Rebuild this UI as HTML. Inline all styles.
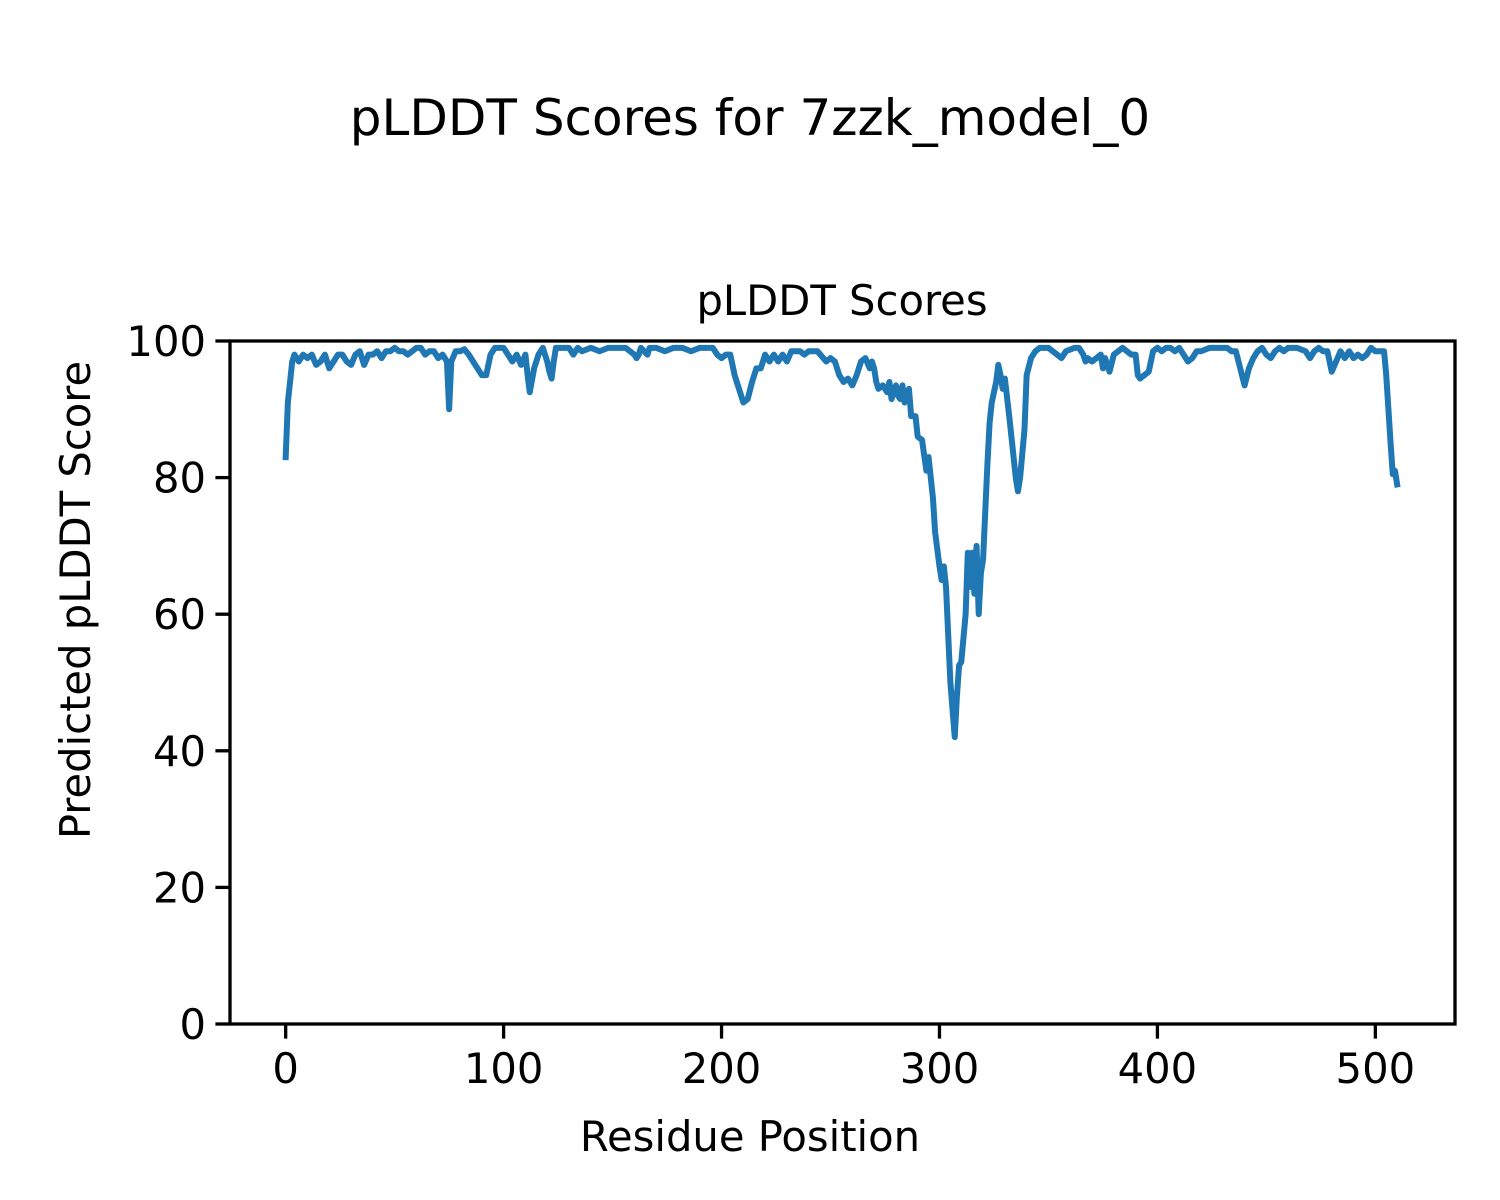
<!DOCTYPE html>
<html><head><meta charset="utf-8"><style>
html,body{margin:0;padding:0;background:#fff}
svg{display:block;font-family:"DejaVu Sans","Liberation Sans",sans-serif}
</style></head><body>
<svg id="chart" width="1500" height="1200" viewBox="0 0 1500 1200">
<rect width="1500" height="1200" fill="#fff"/>
<text x="750" y="135" style="font-size:50px" text-anchor="middle">pLDDT Scores for 7zzk_model_0</text>
<text x="842" y="315" style="font-size:41.7px" text-anchor="middle">pLDDT Scores</text>
<g id="xticks"></g>
<g id="yticks"></g>
<path id="line" fill="none" stroke="#1f77b4" stroke-width="6" stroke-linejoin="round" stroke-linecap="square"/>
<rect x="230" y="341" width="1225" height="683" fill="none" stroke="#000" stroke-width="3.3"/>
<text x="750" y="1151" style="font-size:41.7px" text-anchor="middle">Residue Position</text>
<text transform="translate(90,600) rotate(-90)" style="font-size:41.7px" text-anchor="middle">Predicted pLDDT Score</text>
</svg>
<script>
const residues=[0,1,3,4,6,8,10,12,14,16,18,20,22,24,26,28,30,32,34,36,38,40,42,44,46,48,50,52,54,56,58,60,62,64,66,68,70,72,74,75,76,78,80,82,84,86,88,90,92,94,96,98,100,102,104,106,108,110,111,112,114,116,118,120,121,122,123,124,126,130,132,134,136,140,144,148,152,156,160,161,162,163,166,167,170,174,178,182,186,190,196,198,200,202,204,206,208,210,212,214,216,218,220,222,224,226,228,230,232,236,238,240,244,248,250,252,254,256,258,260,262,264,266,268,269,270,271,272,274,276,277,278,280,281,282,283,284,286,287,289,290,292,294,295,297,298,300,301,302,303,305,307,308,309,310,312,313,314,315,316,317,318,319,320,322,323,324,326,327,328,329,330,332,333,335,336,337,339,340,342,344,346,350,354,356,358,362,364,366,367,368,370,372,374,375,376,378,380,382,384,386,388,390,391,392,394,396,397,398,400,402,404,406,408,410,412,414,416,418,420,424,428,432,434,436,438,440,442,444,446,448,450,452,454,456,458,460,464,468,470,472,474,476,478,480,482,484,486,488,490,492,494,496,498,500,502,504,505,507,508,509,510];
const scores=[83,91,97,98,97,98,97.5,98,96.5,97,98,96,97,98,98,97,96.5,98,98.5,96.5,98,98,98.5,97.5,98.5,98.5,99,98.5,98.5,98,98.5,99,99,98,98.5,98.5,97.5,98,97,90,97,98.5,98.5,98.8,98,97,96,95,95,98,99,99,99,98,97,98,96.5,98,95,92.5,96,98,99,97,95.5,94.5,97,99,99,99,98,99,98.5,99,98.5,99,99,99,98,97.5,98,99,98,99,99,98.5,99,99,98.5,99,99,98,97.5,98,98,95,93,91,91.5,94,96,96,98,97,98,97,98,97,98.5,98.5,98,98.5,98.5,97,97.5,97,95,94,94.5,93.5,95,97,97.5,96,97,96,94,93,93.5,92.5,94,91.5,93.5,92,91.5,93.5,91,93,89,89,86,85.5,81,83,77,72,67,65,67,64,50,42,48,52.5,53,60,69,64,69,63,70,60,66,68,82,88,91,94,96.5,95,93,94.5,89,86,80,78,80,87,95,97.5,98.5,99,99,98,97.5,98.5,99,99,98,97,97.5,97,97.5,98,96,97.5,95.5,98,98.5,99,98.5,98,98,95,94.5,95,95.5,97,98.5,99,98.5,99,99,98.5,99,98,97,97.5,98.5,98.5,99,99,99,98.5,98.5,96,93.5,96,97.5,98.5,99,98,97.5,98.5,99,98.5,99,99,98.5,97.5,98.5,99,98.5,98.5,95.5,97,98.5,97.5,98.5,97.5,98,97.5,98,99,98.5,98.5,98.5,95,85,80.5,81,79];
const xTicks=[0,100,200,300,400,500];
const yTicks=[0,20,40,60,80,100];
const NS="http://www.w3.org/2000/svg";
const xMin=-25.55,xMax=536.55,L=230,R=1455,T=341,B=1024;
function sx(v){return L+(v-xMin)/(xMax-xMin)*(R-L);}
function sy(v){return B-(v/100)*(B-T);}
let d="";
residues.forEach((r,i)=>{d+=(i?"L":"M")+sx(r).toFixed(2)+","+sy(scores[i]).toFixed(2);});
document.getElementById("line").setAttribute("d",d);
const xg=document.getElementById("xticks"),yg=document.getElementById("yticks");
xTicks.forEach(t=>{
 const l=document.createElementNS(NS,"line");
 l.setAttribute("x1",sx(t));l.setAttribute("x2",sx(t));l.setAttribute("y1",B);l.setAttribute("y2",B+14.6);
 l.setAttribute("stroke","#000");l.setAttribute("stroke-width","3.3");
 
 
 xg.appendChild(l);
 const tx=document.createElementNS(NS,"text");
 tx.setAttribute("x",sx(t));tx.setAttribute("y",B+59);tx.setAttribute("style","font-size:41.7px");tx.setAttribute("text-anchor","middle");
 tx.textContent=t;
 
 
 xg.appendChild(tx);
});
yTicks.forEach(t=>{
 const l=document.createElementNS(NS,"line");
 l.setAttribute("x1",L-14.6);l.setAttribute("x2",L);l.setAttribute("y1",sy(t));l.setAttribute("y2",sy(t));
 l.setAttribute("stroke","#000");l.setAttribute("stroke-width","3.3");
 
 
 yg.appendChild(l);
 const tx=document.createElementNS(NS,"text");
 tx.setAttribute("x",L-24);tx.setAttribute("y",sy(t)+15);tx.setAttribute("style","font-size:41.7px");tx.setAttribute("text-anchor","end");
 tx.textContent=t;
 
 
 yg.appendChild(tx);
});
</script>
</body></html>
